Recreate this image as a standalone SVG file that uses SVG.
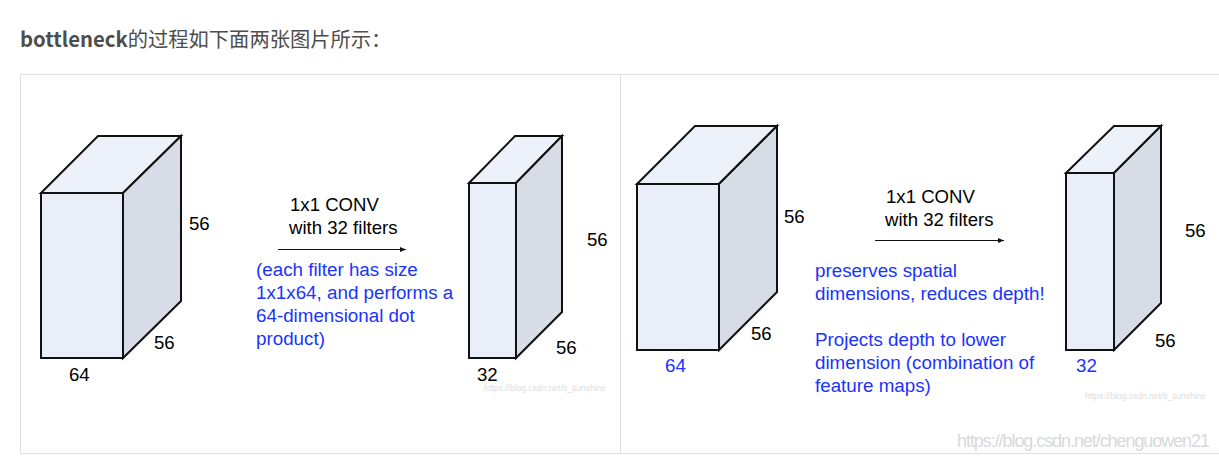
<svg xmlns="http://www.w3.org/2000/svg" width="1219" height="459" viewBox="0 0 1219 459">
<style>
.front{fill:#e9eef9;stroke:#111;stroke-width:2;stroke-linejoin:miter}
.top{fill:#edf1fa;stroke:#111;stroke-width:2;stroke-linejoin:miter}
.side{fill:#d8dce6;stroke:#111;stroke-width:2;stroke-linejoin:miter}
.lbl{font-family:"Liberation Sans",Arial,sans-serif;font-size:18.6px;fill:#000}
.blue{font-family:"Liberation Sans",Arial,sans-serif;font-size:18.8px;fill:#1a33ff}
.wm{font-family:"Liberation Sans",Arial,sans-serif;font-size:8.5px;fill:#dddddd}
.border{fill:none;stroke:#dedede;stroke-width:1}
.arrow{stroke:#111;stroke-width:1;fill:none}
</style>
<defs>
<marker id="ah" viewBox="0 0 10 10" refX="10" refY="5" markerWidth="6" markerHeight="6" orient="auto" markerUnits="userSpaceOnUse">
<path d="M0,1 L10,5 L0,9 Z" fill="#111"/>
</marker>
</defs>
<rect width="1219" height="459" fill="#ffffff"/>
<text x="20" y="47" font-family="'Noto Sans CJK SC','Noto Sans',sans-serif" font-size="20.3" fill="#4d4d4d"><tspan font-weight="bold">bottleneck</tspan>的过程如下面两张图片所示：</text>
<g id="panels">
<rect class="border" x="20.5" y="74.5" width="600" height="379"/>
<path class="border" d="M620.5 74.5 H1230 M620.5 453.5 H1230"/>
</g>
<g id="cube1">
<polygon class="top" points="41,193 98,136 181,136 123,193"/>
<polygon class="side" points="123,193 181,136 181,301 123,358"/>
<rect class="front" x="41" y="193" width="82" height="165"/>
</g>
<g id="cube2">
<polygon class="top" points="469,183 515,136 562,136 516,183"/>
<polygon class="side" points="516,183 562,136 562,312 516,358"/>
<rect class="front" x="469" y="183" width="47" height="175"/>
</g>
<g id="cube3">
<polygon class="top" points="637,184 695,126 777,126 719,184"/>
<polygon class="side" points="719,184 777,126 777,292 719,350"/>
<rect class="front" x="637" y="184" width="82" height="166"/>
</g>
<g id="cube4">
<polygon class="top" points="1066,173 1114,126 1161,126 1114,173"/>
<polygon class="side" points="1114,173 1161,126 1161,303 1114,350"/>
<rect class="front" x="1066" y="173" width="48" height="177"/>
</g>
<g id="connectors">
<line class="arrow" x1="278" y1="249.5" x2="406" y2="249.5" marker-end="url(#ah)"/>
<line class="arrow" x1="875" y1="240.5" x2="1004" y2="240.5" marker-end="url(#ah)"/>
</g>
<g id="labels-left">
<text class="lbl" x="189" y="230">56</text>
<text class="lbl" x="154" y="349">56</text>
<text class="lbl" x="69" y="381">64</text>
<text class="lbl" x="290" y="211">1x1 CONV</text>
<text class="lbl" x="289" y="234">with 32 filters</text>
<text class="blue" x="256" y="276">(each filter has size</text>
<text class="blue" x="256" y="299">1x1x64, and performs a</text>
<text class="blue" x="256" y="322">64-dimensional dot</text>
<text class="blue" x="256" y="345">product)</text>
<text class="lbl" x="587" y="246">56</text>
<text class="lbl" x="556" y="354">56</text>
<text class="lbl" x="477" y="381">32</text>
<text class="wm" x="484" y="391" textLength="122">https://blog.csdn.net/it_sunshine</text>
</g>
<g id="labels-right">
<text class="lbl" x="784" y="223">56</text>
<text class="lbl" x="751" y="340">56</text>
<text class="blue" x="665" y="372">64</text>
<text class="lbl" x="886" y="203">1x1 CONV</text>
<text class="lbl" x="885" y="226">with 32 filters</text>
<text class="blue" x="815" y="277">preserves spatial</text>
<text class="blue" x="815" y="300">dimensions, reduces depth!</text>
<text class="blue" x="815" y="346">Projects depth to lower</text>
<text class="blue" x="815" y="369">dimension (combination of</text>
<text class="blue" x="815" y="392">feature maps)</text>
<text class="lbl" x="1185" y="237">56</text>
<text class="lbl" x="1155" y="347">56</text>
<text class="blue" x="1076" y="372">32</text>
<text class="wm" x="1085" y="399" textLength="121">https://blog.csdn.net/it_sunshine</text>
<text x="957" y="447" font-family="'Liberation Sans',Arial,sans-serif" font-size="18" fill="#d9d9d9" textLength="253">https://blog.csdn.net/chenguowen21</text>
</g>
</svg>
